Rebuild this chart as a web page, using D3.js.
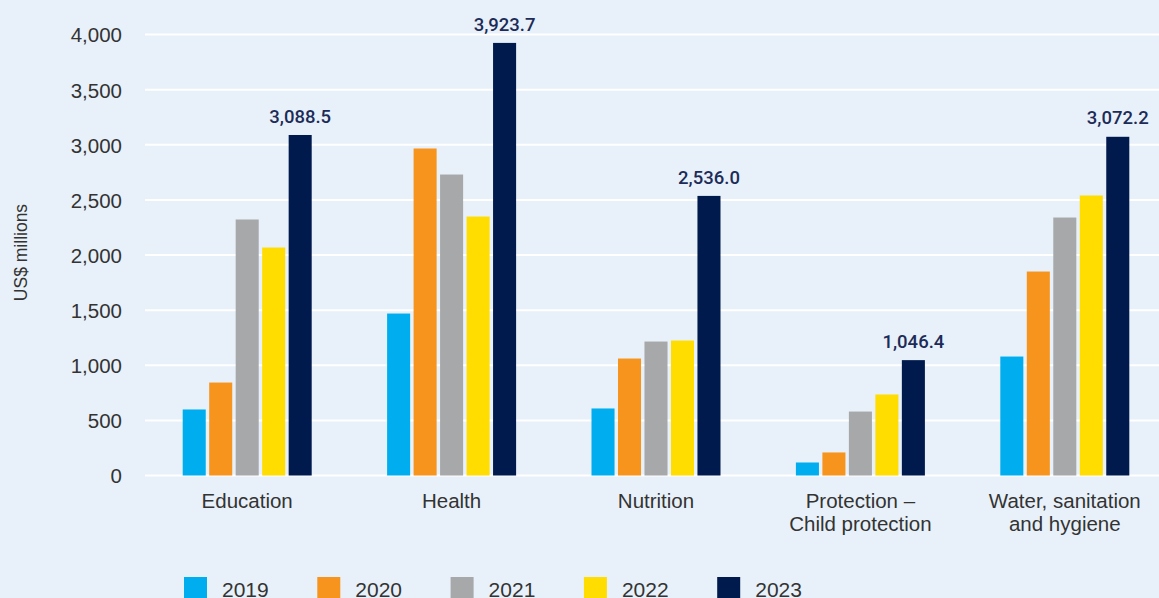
<!DOCTYPE html>
<html>
<head>
<meta charset="utf-8">
<script src="https://d3js.org/d3.v7.min.js"></script>
<style>
  html, body { margin: 0; padding: 0; background: #e8f1f9; }
  svg { display: block; font-family: 'Liberation Sans', Arial, sans-serif; }
  .grid line { stroke: #ffffff; stroke-width: 2px; }
  .tick text { fill: #333; }
</style>
</head>
<body>
<svg id="chart" width="1159" height="598"></svg>
<script>
const categories = ['Education', 'Health', 'Nutrition', 'Protection –\nChild protection', 'Water, sanitation\nand hygiene'];
const years = ['2019', '2020', '2021', '2022', '2023'];
const colors = ['#00aeef', '#f7941d', '#a7a8aa', '#ffdd00', '#001a4d'];
const v2019 = [599, 1469, 608, 118, 1079];
const v2020 = [843, 2966, 1061, 209, 1850];
const v2021 = [2322, 2730, 1215, 580, 2340];
const v2022 = [2068, 2349, 1224, 735, 2540];
const v2023 = [3088.5, 3923.7, 2536.0, 1046.4, 3072.2];
const yTicks = [0, 500, 1000, 1500, 2000, 2500, 3000, 3500, 4000];

const series = [v2019, v2020, v2021, v2022, v2023];

const svg = d3.select('#chart');
const width = +svg.attr('width');

const x = d3.scaleBand().domain(categories).range([145, 1167]).paddingInner(0).paddingOuter(0);
const y = d3.scaleLinear().domain([0, 4000]).range([475.5, 34.5]);
const innerW = 129;
const x1 = d3.scaleBand().domain(years).range([0, innerW]).paddingInner(0.13);

// gridlines
svg.append('g').attr('class', 'grid')
  .selectAll('line').data(yTicks).enter().append('line')
  .attr('x1', 145).attr('x2', width)
  .attr('y1', d => y(d)).attr('y2', d => y(d));

// y axis labels
const yAxis = d3.axisLeft(y).tickValues(yTicks).tickFormat(d3.format(',')).tickSize(0).tickPadding(0);
svg.append('g').attr('transform', 'translate(122,0)').call(yAxis)
  .call(g => g.select('.domain').remove())
  .selectAll('text').attr('font-size', 20.5).attr('font-family', 'Liberation Sans, Arial, sans-serif').attr('dy', '0.36em');

svg.append('text')
  .attr('transform', 'translate(26.5,252.5) rotate(-90)')
  .attr('text-anchor', 'middle')
  .attr('font-size', 17.5).attr('fill', '#333')
  .text('US$ millions');

// bars
const groups = svg.append('g').selectAll('g').data(categories).enter().append('g')
  .attr('transform', d => `translate(${x(d) + (x.bandwidth() - innerW) / 2},0)`);

groups.selectAll('rect')
  .data((c, i) => years.map((yr, j) => ({ yr, j, v: series[j][i] })))
  .enter().append('rect')
  .attr('x', d => x1(d.yr))
  .attr('width', x1.bandwidth())
  .attr('y', d => y(d.v))
  .attr('height', d => y(0) - y(d.v))
  .attr('fill', d => colors[d.j]);

// value labels on 2023
groups.append('text')
  .attr('x', x1('2023') + x1.bandwidth() / 2)
  .attr('y', (c, i) => y(v2023[i]) - 12.3)
  .attr('text-anchor', 'middle')
  .attr('font-family', 'Roboto, sans-serif')
  .attr('font-size', 18.5).attr('font-weight', 500)
  .attr('fill', '#1c2b58')
  .text((c, i) => d3.format(',.1f')(v2023[i]));

// category labels
const xAxis = svg.append('g');
categories.forEach(c => {
  const cx = x(c) + x.bandwidth() / 2;
  const t = xAxis.append('text')
    .attr('x', cx)
    .attr('y', 507.5)
    .attr('text-anchor', 'middle')
    .attr('font-size', 20.5).attr('fill', '#333');
  c.split('\n').forEach((line, k) => {
    t.append('tspan').attr('x', cx).attr('dy', k === 0 ? 0 : 23.5).text(line);
  });
});

// legend
const legend = svg.append('g').selectAll('g').data(years).enter().append('g')
  .attr('transform', (d, i) => `translate(${184 + i * 133.3},577)`);
legend.append('rect').attr('width', 23).attr('height', 21).attr('fill', (d, i) => colors[i]);
legend.append('text').attr('x', 38).attr('y', 20).attr('font-size', 21).attr('fill', '#333').text(d => d);
</script>
</body>
</html>
